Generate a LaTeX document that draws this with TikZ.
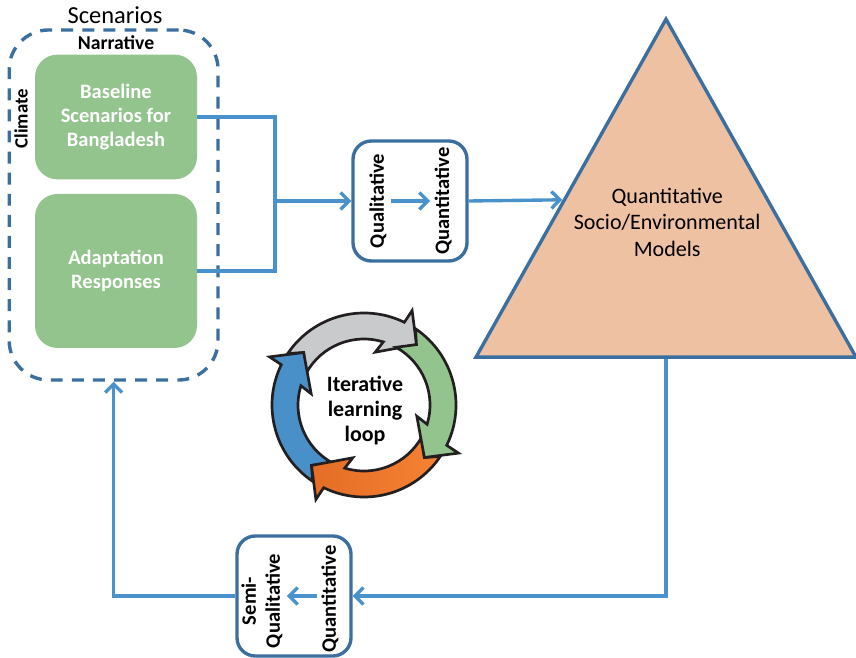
\documentclass[tikz,border=0pt]{standalone}
\usepackage{fontspec}
\setmainfont{Carlito}
\usetikzlibrary{arrows.meta}
\usetikzlibrary{shapes.geometric}
\definecolor{boxblue}{HTML}{3B6F9F}
\definecolor{linkblue}{HTML}{4A92CB}
\definecolor{boxgreen}{HTML}{93C48D}
\definecolor{modelpeach}{HTML}{EFC1A3}
\definecolor{ringgreycol}{HTML}{C8CACC}
\definecolor{ringblackcol}{HTML}{231F20}
\definecolor{ringbluecol}{HTML}{4A90C8}
\definecolor{ringdark}{HTML}{E56D26}
\definecolor{ringlight}{HTML}{F58233}
\tikzset{
  link/.style={draw=linkblue,line width=2.4pt,>={Straight Barb[length=6pt,width=12pt]}},
  scenbox/.style={rectangle,rounded corners=16pt,fill=boxgreen,text=white,font=\fontsize{14.6}{17}\selectfont\bfseries,align=center,minimum width=4.05cm},
  convbox/.style={rectangle,rounded corners=13pt,draw=boxblue,line width=2.4pt,fill=white,minimum width=2.85cm,minimum height=3cm},
  vertlabel/.style={rotate=90,font=\fontsize{14.6}{17}\selectfont\bfseries,align=center,inner sep=3pt},
  ringarrow/.style={draw=ringblackcol,line width=1.9pt,miter limit=10},
  ringgrey/.style={fill=ringgreycol},
  ringgreen/.style={fill=boxgreen},
  ringorange/.style={left color=ringdark,right color=ringlight},
  ringblue/.style={fill=ringbluecol}
}
\begin{document}
\begin{tikzpicture}
\useasboundingbox (0,0) rectangle (21.4,16.425);
% scenario side
\node (scenarios) [font=\fontsize{17.4}{20}\selectfont] at (2.875,16.05) {Scenarios};
\node (scenbound) [rectangle,rounded corners=28pt,draw=boxblue,line width=2.4pt,dash pattern=on 8.5pt off 6.5pt,minimum width=5.22cm,minimum height=8.75cm] at (2.84,11.3) {};
\node (narrative) [font=\fontsize{14}{15}\selectfont\bfseries] at (2.9,15.35) {Narrative};
\node (climate) [rotate=90,font=\fontsize{13.4}{15}\selectfont\bfseries] at (0.53,13.46) {Climate};
\node (baseline) [scenbox,minimum height=3.12cm] at (2.9,13.5) {Baseline\\Scenarios for\\Bangladesh};
\node (adaption) [scenbox,minimum height=3.85cm] at (2.9,9.65) {Adaptation\\Responses};
% conversion boxes
\node (upbox) [convbox] at (10.25,11.4) {};
\node (upqual) [vertlabel] at (9.45,11.4) {Qualitative};
\node (upquant) [vertlabel] at (11.08,11.4) {Quantitative};
\node (lowbox) [convbox] at (7.35,1.525) {};
\node (lowsemi) [vertlabel] at (6.55,1.4) {Semi-\\Qualitative};
\node (lowquant) [vertlabel] at (8.25,1.45) {Quantitative};
% model triangle
\node (models) [isosceles triangle,isosceles triangle stretches,shape border rotate=90,inner sep=0pt,draw=boxblue,fill=modelpeach,line width=2.4pt,minimum width=9.5cm,minimum height=8.45cm] at (16.65,10.275) {};
\node (modeltext) [font=\fontsize{15.7}{19}\selectfont,align=center] at (16.68,10.87) {Quantitative\\Socio/Environmental\\Models};
% connectors
\coordinate (join) at (6.875,11.4);
\draw [link] (baseline.east) -| (join);
\draw [link] (adaption.east) -| (join);
\draw [link,->] (join) -- (upbox.west);
\draw [link,->] (upqual) -- (upquant);
\draw [link,->] (upbox.east) -- (models.156);
\draw [link,->] (models.south) |- (lowbox.east);
\draw [link,->] (lowquant.north |- lowbox) -- (lowsemi.south |- lowbox);
\draw [link,->] (lowbox.west) -| (scenbound.south);
% learning loop
\node (looptext) [font=\fontsize{15.6}{17.8}\selectfont\bfseries,align=center] at (9.125,6.17) {Iterative\\learning\\loop};
\begin{scope}[shift={(9.1,6.3)}]
\foreach \t/\c in {49/ringgrey,139/ringblue,229/ringorange,319/ringgreen}
  \draw [ringarrow,\c] (\t:2.0) -- (\t+14:2.65) -- (\t+15:2.3)
    arc[start angle=\t+15,end angle=\t+97,radius=2.3] -- (\t+90:2.0) -- (\t+102:1.65)
    arc[start angle=\t+102,end angle=\t+24,radius=1.65] -- (\t+29:1.35) -- cycle;
\end{scope}
\end{tikzpicture}
\end{document}
